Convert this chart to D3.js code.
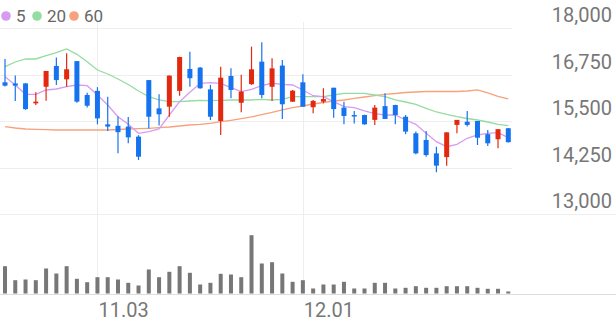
<!DOCTYPE html>
<html>
<head>
<meta charset="utf-8">
<title>Candle chart</title>
<script src="https://cdn.jsdelivr.net/npm/d3@7"></script>
<style>
  body { margin: 0; background: #fff; }
  svg text { font-family: Roboto, "Noto Sans", sans-serif; }
</style>
</head>
<body>
<div id="chart"></div>
<script>
// trading days
var dates = ["10.23","10.24","10.25","10.26","10.27","10.30","10.31","11.01","11.02","11.03",
             "11.06","11.07","11.08","11.09","11.10","11.13","11.14","11.15","11.16","11.17",
             "11.20","11.21","11.22","11.23","11.24","11.27","11.28","11.29","11.30","12.01",
             "12.04","12.05","12.06","12.07","12.08","12.11","12.12","12.13","12.14","12.15",
             "12.18","12.19","12.20","12.21","12.22","12.26","12.27","12.28","12.29","01.02"];
var tickDates = ["11.03", "12.01"];

var open  = [16540,16510,16510,15975,16420,16980,16620,17110,16200,16310,
             15410,15370,15350,15080,16600,15840,15885,16310,16900,16935,
             16350,15500,16710,15990,16490,17095,16420,16990,16020,16540,
             15870,16020,16395,15860,15660,15660,15530,15900,15930,15615,
             15170,14990,14630,14530,15395,15480,15500,15145,15010,15305];
var high  = [17170,16720,16520,16270,16845,17210,17320,17110,16260,16410,
             16150,15620,15610,15120,16600,16220,16720,17230,17360,16950,
             16470,16960,16920,16740,17500,17620,17185,17140,16330,16755,
             16065,16380,16395,16020,15770,15670,15930,16245,15935,15660,
             15215,15230,14810,15195,15530,15770,15500,15260,15280,15310];
var low   = [16430,16040,15800,15930,16045,16470,16420,15990,15860,15410,
             15230,14630,14900,14450,15300,15380,15615,16180,16420,16370,
             15525,15125,16110,15735,16470,16110,16040,15555,16010,15880,
             15710,15975,15590,15410,15430,15400,15395,15555,15410,15145,
             14605,14540,14120,14300,15170,15350,14855,14830,14770,14920];
var close = [16450,16450,15820,16020,16845,16600,16890,16020,15910,15570,
             15350,15200,15060,14540,15615,15680,16720,17220,16650,16380,
             15615,16665,16335,16290,16890,16200,16915,15950,16315,15885,
             16040,16090,15820,15635,15635,15410,15860,15555,15660,15215,
             14630,14585,14300,15195,15530,15395,15050,14900,15280,14930];
var volume = [273,133,140,133,250,200,273,147,113,163,
              163,140,107,80,240,163,217,273,207,90,
              107,197,190,163,583,300,313,200,117,133,
              50,90,90,117,50,50,107,107,50,57,
              73,57,57,73,73,73,57,47,47,20];

var ma5  = [16691,16468,16218,16218,16333,16360,16422,16468,16449,16199,
            15930,15616,15411,15170,15213,15285,15661,16019,16272,16514,
            16530,16514,16395,16288,16352,16449,16514,16487,16468,16333,
            16180,16153,16019,15885,15858,15769,15696,15661,15661,15527,
            15411,15170,14944,14809,14874,15035,15124,15170,15186,15051];
var ma20 = [16960,17086,17167,17167,17255,17336,17436,17293,17094,16871,
            16763,16629,16481,16307,16153,16065,16019,16019,16038,16057,
            16046,16057,16065,16065,16065,16083,16065,16083,16153,16153,
            16153,16153,16199,16245,16245,16245,16199,16153,16065,16011,
            15949,15841,15742,15675,15616,15567,15527,15473,15411,15374];
var ma60 = [15347,15312,15285,15277,15266,15258,15258,15258,15258,15258,
            15258,15272,15285,15293,15304,15320,15339,15366,15393,15411,
            15438,15481,15519,15562,15608,15670,15729,15796,15858,15903,
            15957,15997,16038,16065,16110,16145,16180,16218,16239,16266,
            16280,16293,16293,16293,16293,16307,16334,16253,16159,16092];

var priceTicks = [13000, 14250, 15500, 16750, 18000];
var maNames = ["5", "20", "60"];
var maColors = ["#d79cf0", "#94dca0", "#f7a27c"];

var width = 616;
var height = 321;
var upColor = "#e2290f";
var downColor = "#1673f0";

var svg = d3.select("#chart").append("svg")
    .attr("width", width)
    .attr("height", height);

var x = d3.scalePoint()
    .domain(dates)
    .range([5, 508.3]);

var y = d3.scaleLinear()
    .domain([13000, 18000])
    .range([214, 28]);

var yVol = d3.scaleLinear()
    .domain([0, 600])
    .range([293.5, 233.5]);

// grid
svg.append("g")
    .selectAll("line")
    .data(priceTicks.filter(function(d) { return d > 13000; }))
    .enter().append("line")
      .attr("x1", 0).attr("x2", 512)
      .attr("y1", function(d) { return Math.round(y(d)) + 0.5; })
      .attr("y2", function(d) { return Math.round(y(d)) + 0.5; })
      .attr("stroke", "#eeeeee");

svg.append("line")
    .attr("x1", 0).attr("x2", width)
    .attr("y1", Math.round(y(13000)) + 0.5).attr("y2", Math.round(y(13000)) + 0.5)
    .attr("stroke", "#eeeeee");

svg.append("g")
    .selectAll("line")
    .data(tickDates)
    .enter().append("line")
      .attr("x1", function(d) { return Math.round(x(d)) + 0.5; })
      .attr("x2", function(d) { return Math.round(x(d)) + 0.5; })
      .attr("y1", 22).attr("y2", 294)
      .attr("stroke", "#eeeeee");

svg.append("line")
    .attr("x1", 0).attr("x2", width)
    .attr("y1", 294.5).attr("y2", 294.5)
    .attr("stroke", "#dddddd");

// y labels
svg.append("g")
    .selectAll("text")
    .data(priceTicks)
    .enter().append("text")
      .attr("x", 612)
      .attr("y", function(d) { return y(d) - 6; })
      .attr("text-anchor", "end")
      .attr("font-size", 20)
      .attr("fill", "#777")
      .text(function(d) { return d3.format(",")(d); });

// x labels
svg.append("g")
    .selectAll("text")
    .data(tickDates)
    .enter().append("text")
      .attr("x", function(d) { return x(d) + 1; })
      .attr("y", 316.5)
      .attr("font-size", 20)
      .attr("fill", "#777")
      .text(function(d) { return d; });

// volume
svg.append("g")
    .selectAll("rect")
    .data(volume)
    .enter().append("rect")
      .attr("x", function(d, i) { return x(dates[i]) - 2; })
      .attr("y", function(d) { return yVol(d); })
      .attr("width", 4)
      .attr("height", function(d) { return yVol(0) - yVol(d); })
      .attr("fill", "#777");

// moving averages
var maSeries = [ma60, ma20, ma5];
var maSeriesColors = [maColors[2], maColors[1], maColors[0]];
var line = d3.line()
    .x(function(d, i) { return x(dates[i]); })
    .y(function(d) { return y(d); });

svg.append("g")
    .selectAll("path")
    .data(maSeries)
    .enter().append("path")
      .attr("d", line)
      .attr("fill", "none")
      .attr("stroke", function(d, i) { return maSeriesColors[i]; })
      .attr("stroke-width", 1.3);

// candles
var candles = svg.append("g")
    .selectAll("g")
    .data(dates)
    .enter().append("g");

function col(i) { return close[i] >= open[i] ? upColor : downColor; }

candles.append("line")
    .attr("x1", function(d) { return x(d); })
    .attr("x2", function(d) { return x(d); })
    .attr("y1", function(d, i) { return y(high[i]); })
    .attr("y2", function(d, i) { return y(low[i]); })
    .attr("stroke", function(d, i) { return col(i); })
    .attr("stroke-width", 1.2);

candles.append("rect")
    .attr("x", function(d) { return x(d) - 2.5; })
    .attr("y", function(d, i) { return y(Math.max(open[i], close[i])); })
    .attr("width", 5)
    .attr("height", function(d, i) { return Math.max(1.5, Math.abs(y(open[i]) - y(close[i]))); })
    .attr("fill", function(d, i) { return col(i); });

// legend
var legend = svg.append("g")
    .selectAll("g")
    .data(maNames)
    .enter().append("g")
      .attr("transform", function(d, i) { return "translate(" + [6, 37, 74][i] + ",16)"; });

legend.append("circle")
    .attr("r", 4.8)
    .attr("fill", function(d, i) { return maColors[i]; });

legend.append("text")
    .attr("x", 10)
    .attr("y", 6)
    .attr("font-size", 17)
    .attr("fill", "#666")
    .text(function(d) { return d; });
</script>
</body>
</html>
